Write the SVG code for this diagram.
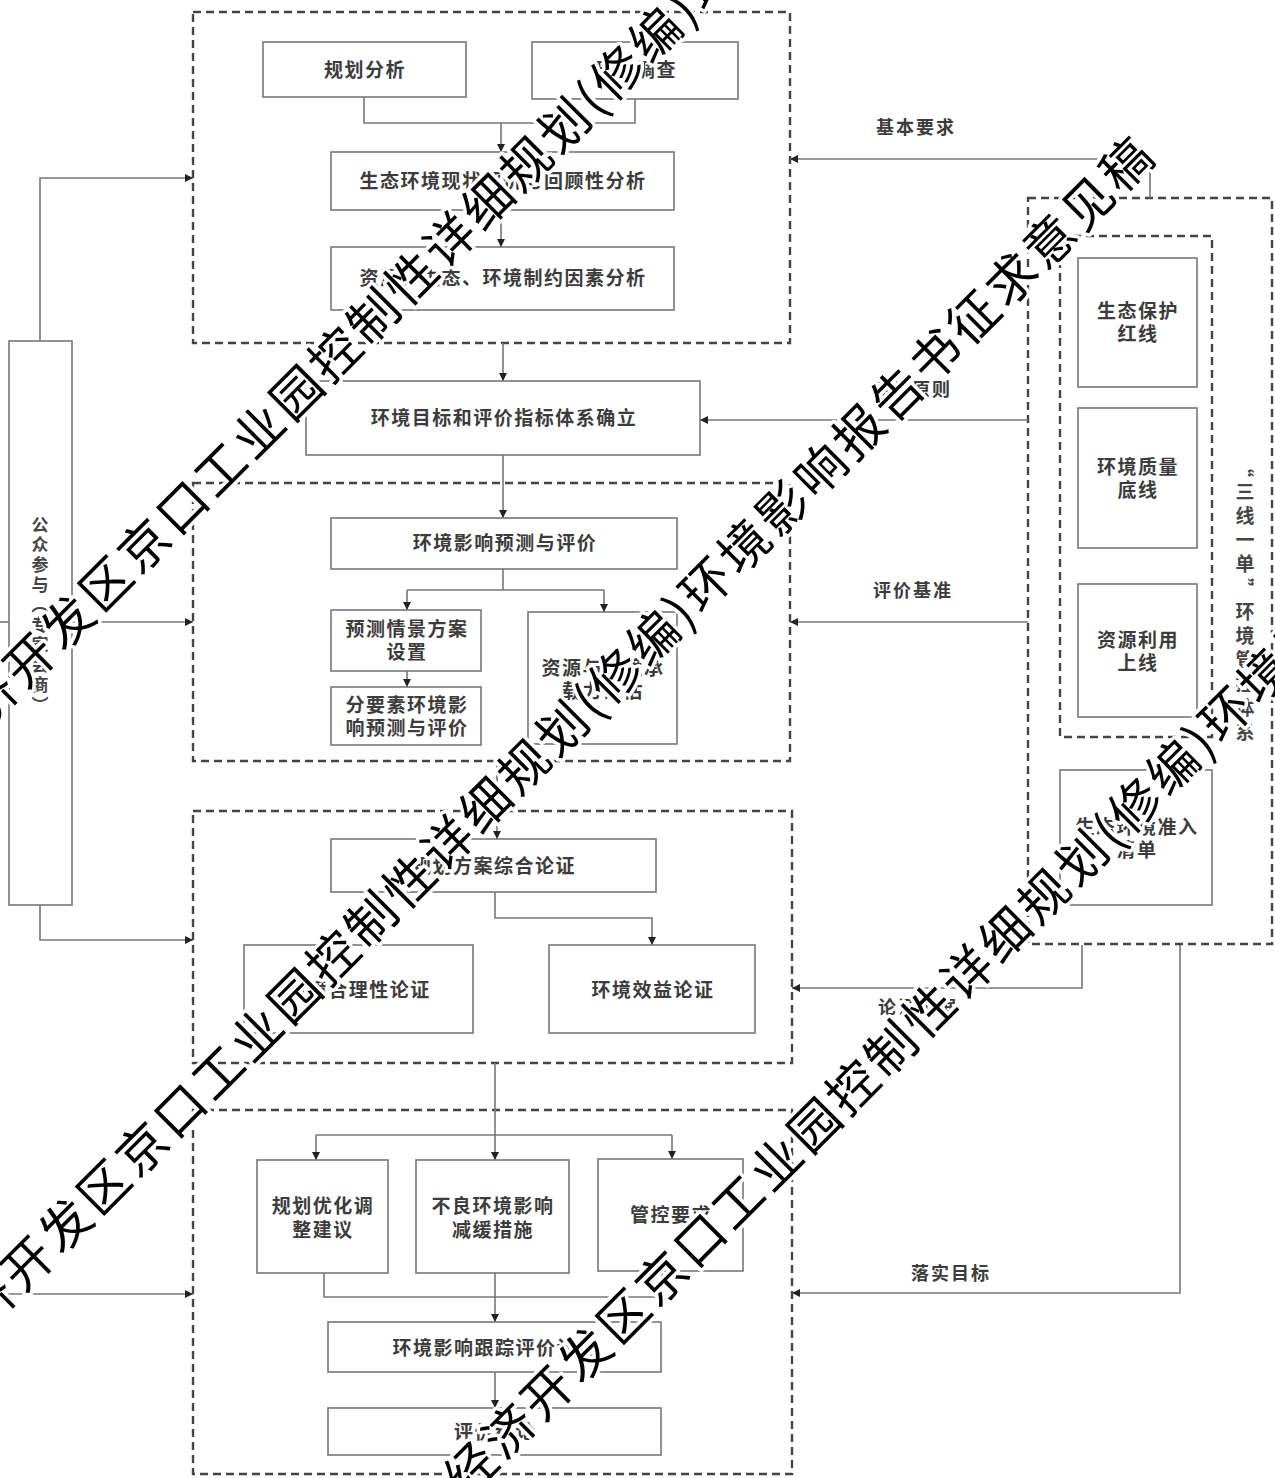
<svg xmlns="http://www.w3.org/2000/svg" width="1275" height="1478" viewBox="0 0 1275 1478">
<style>
.bg{fill:#fff}
.box{fill:#fff;stroke:#777;stroke-width:1.6}
.dash{fill:none;stroke:#444;stroke-width:2.4;stroke-dasharray:8 5}
.t{font-family:"Noto Sans CJK SC","Noto Sans CJK JP",sans-serif;font-size:19px;font-weight:700;fill:#3c3c3c;text-anchor:middle;letter-spacing:1.5px}
.lbl{font-family:"Noto Sans CJK SC","Noto Sans CJK JP",sans-serif;font-size:18px;font-weight:700;fill:#3c3c3c;text-anchor:middle;letter-spacing:2px}
.v{font-family:"Noto Sans CJK SC","Noto Sans CJK JP",sans-serif;font-weight:700;fill:#444;text-anchor:middle;writing-mode:vertical-rl}
.ln{fill:none;stroke:#777;stroke-width:1.6}
.wm{font-family:"Noto Sans CJK SC","Noto Sans CJK JP",sans-serif;font-size:50px;font-weight:400;fill:#000;letter-spacing:4px;stroke:#fff;stroke-width:7px;stroke-linejoin:round;paint-order:stroke}
</style>
<defs>
<marker id="ar" viewBox="0 0 10 10" refX="10" refY="5" markerWidth="8" markerHeight="8" markerUnits="userSpaceOnUse" orient="auto">
<path d="M0,0 L10,5 L0,10 z" fill="#222"/>
</marker>
</defs>
<rect class="bg" x="0" y="0" width="1275" height="1478"/>

<g id="groups">
<rect id="grp-analysis" class="dash" x="193" y="12" width="597" height="331"/>
<rect id="grp-prediction" class="dash" x="193" y="483" width="597" height="278"/>
<rect id="grp-demonstration" class="dash" x="193" y="811" width="599" height="252"/>
<rect id="grp-measures" class="dash" x="193" y="1110" width="599" height="364"/>
<rect id="grp-sanxian-outer" class="dash" x="1028" y="198" width="244" height="746"/>
<rect id="grp-sanxian-inner" class="dash" x="1060" y="236" width="152" height="501"/>
</g>

<g id="connectors">
<polyline class="ln" points="364,97 364,123 635,123 635,99"/>
<line class="ln" x1="501" y1="123" x2="501" y2="152" marker-end="url(#ar)"/>
<line class="ln" x1="501" y1="210" x2="501" y2="247" marker-end="url(#ar)"/>
<line class="ln" x1="503" y1="343" x2="503" y2="381" marker-end="url(#ar)"/>
<line class="ln" x1="503" y1="455" x2="503" y2="518" marker-end="url(#ar)"/>
<line class="ln" x1="503" y1="569" x2="503" y2="590"/>
<line class="ln" x1="407" y1="590" x2="604" y2="590"/>
<line class="ln" x1="407" y1="590" x2="407" y2="610" marker-end="url(#ar)"/>
<line class="ln" x1="604" y1="590" x2="604" y2="612" marker-end="url(#ar)"/>
<line class="ln" x1="407" y1="671" x2="407" y2="687" marker-end="url(#ar)"/>
<line class="ln" x1="497" y1="761" x2="497" y2="839" marker-end="url(#ar)"/>
<polyline class="ln" points="495,892 495,918 652,918 652,945" marker-end="url(#ar)"/>
<line class="ln" x1="495" y1="1063" x2="495" y2="1160" marker-end="url(#ar)"/>
<line class="ln" x1="316" y1="1135" x2="672" y2="1135"/>
<line class="ln" x1="316" y1="1135" x2="316" y2="1160" marker-end="url(#ar)"/>
<line class="ln" x1="672" y1="1135" x2="672" y2="1159" marker-end="url(#ar)"/>
<polyline class="ln" points="324,1273 324,1297 662,1297 662,1271"/>
<line class="ln" x1="495" y1="1273" x2="495" y2="1322" marker-end="url(#ar)"/>
<line class="ln" x1="495" y1="1372" x2="495" y2="1408" marker-end="url(#ar)"/>
<polyline class="ln" points="40,341 40,178 193,178" marker-end="url(#ar)"/>
<line class="ln" x1="0" y1="622" x2="9" y2="622"/>
<line class="ln" x1="72" y1="622" x2="193" y2="622" marker-end="url(#ar)"/>
<polyline class="ln" points="40,905 40,940 193,940" marker-end="url(#ar)"/>
<line class="ln" x1="0" y1="1294" x2="193" y2="1294" marker-end="url(#ar)"/>
<polyline class="ln" points="1150,198 1150,159 790,159" marker-end="url(#ar)"/>
<line class="ln" x1="1028" y1="420" x2="700" y2="420" marker-end="url(#ar)"/>
<line class="ln" x1="1028" y1="622" x2="790" y2="622" marker-end="url(#ar)"/>
<polyline class="ln" points="1082,945 1082,988 792,988" marker-end="url(#ar)"/>
<polyline class="ln" points="1180,945 1180,1293 792,1293" marker-end="url(#ar)"/>
<text class="lbl" x="916" y="134">基本要求</text>
<text class="lbl" x="912" y="396">评价原则</text>
<text class="lbl" x="913" y="597">评价基准</text>
<text class="lbl" x="918" y="1014">论证依据</text>
<text class="lbl" x="951" y="1280">落实目标</text>
</g>

<g id="n-plan"><rect class="box" x="263" y="42" width="203" height="55"/><text class="t" x="365" y="77">规划分析</text></g>
<g id="n-survey"><rect class="box" x="532" y="42" width="206" height="57"/><text class="t" x="636" y="77">现状调查</text></g>
<g id="n-eco-status"><rect class="box" x="331" y="152" width="343" height="58"/><text class="t" x="503" y="188">生态环境现状评价与回顾性分析</text></g>
<g id="n-constraint"><rect class="box" x="331" y="247" width="343" height="63"/><text class="t" x="503" y="285">资源、生态、环境制约因素分析</text></g>
<g id="n-target"><rect class="box" x="306" y="381" width="394" height="74"/><text class="t" x="504" y="425">环境目标和评价指标体系确立</text></g>
<g id="n-predict"><rect class="box" x="331" y="518" width="346" height="51"/><text class="t" x="505" y="550">环境影响预测与评价</text></g>
<g id="n-scenario"><rect class="box" x="331" y="610" width="150" height="61"/><text class="t" x="407" y="636">预测情景方案</text><text class="t" x="407" y="659">设置</text></g>
<g id="n-element"><rect class="box" x="331" y="687" width="150" height="58"/><text class="t" x="407" y="712">分要素环境影</text><text class="t" x="407" y="735">响预测与评价</text></g>
<g id="n-capacity"><rect class="box" x="528" y="612" width="149" height="132"/><text class="t" x="603" y="675">资源与环境承</text><text class="t" x="603" y="698">载力评估</text></g>
<g id="n-comprehensive"><rect class="box" x="331" y="839" width="325" height="53"/><text class="t" x="494" y="873">规划方案综合论证</text></g>
<g id="n-rational"><rect class="box" x="244" y="945" width="229" height="88"/><text class="t" x="359" y="997">环境合理性论证</text></g>
<g id="n-benefit"><rect class="box" x="549" y="945" width="206" height="88"/><text class="t" x="653" y="997">环境效益论证</text></g>
<g id="n-optimize"><rect class="box" x="257" y="1160" width="131" height="113"/><text class="t" x="323" y="1213">规划优化调</text><text class="t" x="323" y="1237">整建议</text></g>
<g id="n-mitigate"><rect class="box" x="416" y="1160" width="153" height="113"/><text class="t" x="493" y="1213">不良环境影响</text><text class="t" x="493" y="1237">减缓措施</text></g>
<g id="n-control"><rect class="box" x="598" y="1159" width="145" height="112"/><text class="t" x="671" y="1222">管控要求</text></g>
<g id="n-tracking"><rect class="box" x="328" y="1322" width="333" height="50"/><text class="t" x="495" y="1355">环境影响跟踪评价计划</text></g>
<g id="n-conclusion"><rect class="box" x="328" y="1408" width="333" height="47"/><text class="t" x="495" y="1439">评价结论</text></g>
<g id="n-public"><rect class="box" x="9" y="341" width="63" height="564"/><text class="v" x="40" y="616" style="font-size:17px;letter-spacing:3px">公众参与（专家会商）</text></g>
<g id="n-redline"><rect class="box" x="1078" y="258" width="119" height="129"/><text class="t" x="1138" y="318">生态保护</text><text class="t" x="1138" y="341">红线</text></g>
<g id="n-quality"><rect class="box" x="1078" y="408" width="119" height="140"/><text class="t" x="1138" y="474">环境质量</text><text class="t" x="1138" y="497">底线</text></g>
<g id="n-resource"><rect class="box" x="1078" y="584" width="119" height="133"/><text class="t" x="1138" y="647">资源利用</text><text class="t" x="1138" y="670">上线</text></g>
<g id="n-access"><rect class="box" x="1060" y="770" width="152" height="135"/><text class="t" x="1137" y="834">生态环境准入</text><text class="t" x="1137" y="857">清单</text></g>
<g id="n-sanxian"><text class="v" x="1245" y="602" style="font-size:19px;letter-spacing:5px">“三线一单”环境管控体系</text></g>

<g id="watermark">
<text class="wm" transform="rotate(-45)" x="-687" y="506">镇江经济开发区京口工业园控制性详细规划(修编)环境影响报告书征求意见稿</text>
<text class="wm" transform="rotate(-45)" x="-1115" y="931">镇江经济开发区京口工业园控制性详细规划(修编)环境影响报告书征求意见稿</text>
<text class="wm" transform="rotate(-45)" x="-839" y="1390">镇江经济开发区京口工业园控制性详细规划(修编)环境影响报告书征求意见稿</text>
</g>
</svg>
